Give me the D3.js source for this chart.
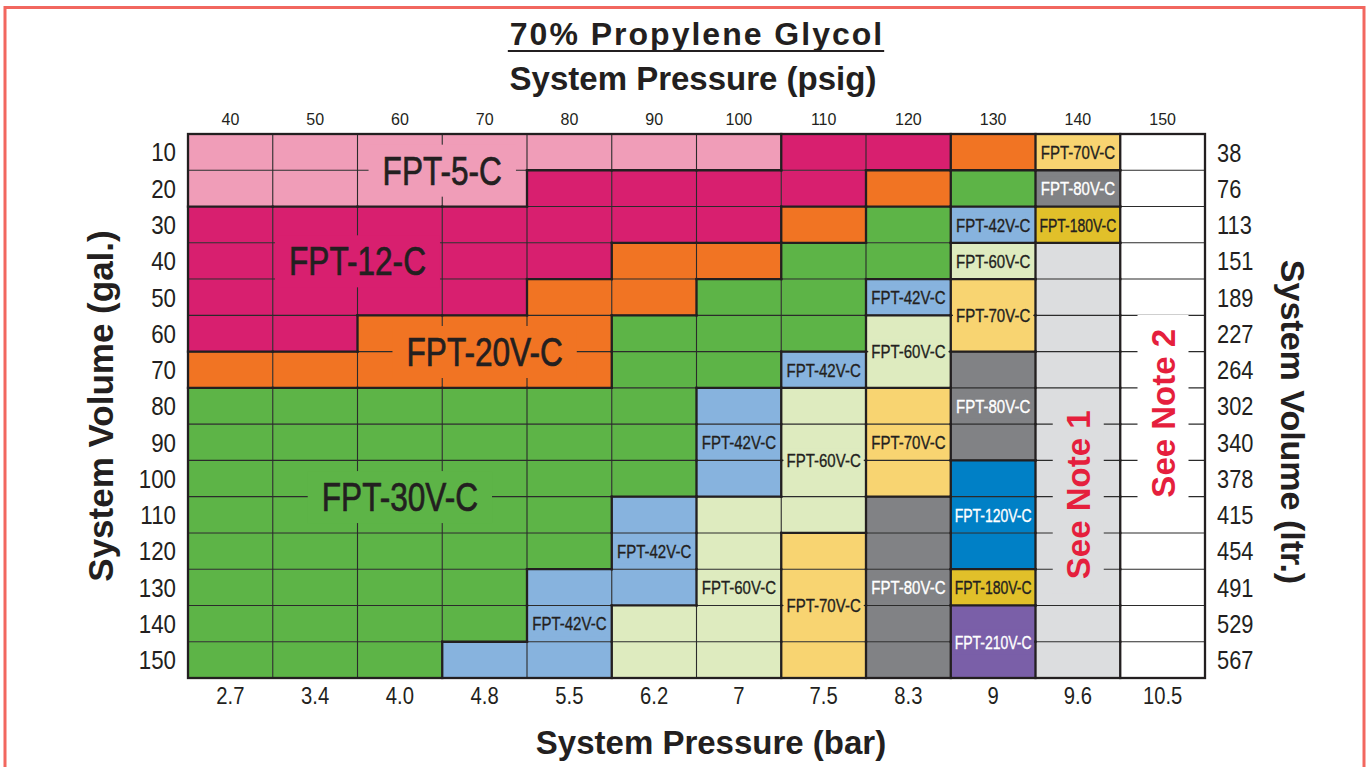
<!DOCTYPE html>
<html>
<head>
<meta charset="utf-8">
<script src="https://cdn.jsdelivr.net/npm/d3@7"></script>
<style>
  body { margin: 0; background: #fff; }
  svg { display: block; }
</style>
</head>
<body>
<div id="chart"></div>
<script>
// psig across the top, bar along the bottom
const psig = [40, 50, 60, 70, 80, 90, 100, 110, 120, 130, 140, 150];
const barLabels = ['2.7', '3.4', '4.0', '4.8', '5.5', '6.2', '7', '7.5', '8.3', '9', '9.6', '10.5'];
// gallons on the left, litres on the right
const gal = [10, 20, 30, 40, 50, 60, 70, 80, 90, 100, 110, 120, 130, 140, 150];
const ltr = [38, 76, 113, 151, 189, 227, 264, 302, 340, 378, 415, 454, 491, 529, 567];

// tank model per cell (row = gal, column = psig)
const grid = [
  ['5', '5', '5', '5', '5', '5', '5', '12', '12', '20', '70', 'n2'],
  ['5', '5', '5', '5', '12', '12', '12', '12', '20', '30', '80', 'n2'],
  ['12', '12', '12', '12', '12', '12', '12', '20', '30', '42', '180', 'n2'],
  ['12', '12', '12', '12', '12', '20', '20', '30', '30', '60', 'n1', 'n2'],
  ['12', '12', '12', '12', '20', '20', '30', '30', '42', '70', 'n1', 'n2'],
  ['12', '12', '20', '20', '20', '30', '30', '30', '60', '70', 'n1', 'n2'],
  ['20', '20', '20', '20', '20', '30', '30', '42', '60', '80', 'n1', 'n2'],
  ['30', '30', '30', '30', '30', '30', '42', '60', '70', '80', 'n1', 'n2'],
  ['30', '30', '30', '30', '30', '30', '42', '60', '70', '80', 'n1', 'n2'],
  ['30', '30', '30', '30', '30', '30', '42', '60', '70', '120', 'n1', 'n2'],
  ['30', '30', '30', '30', '30', '42', '60', '60', '80', '120', 'n1', 'n2'],
  ['30', '30', '30', '30', '30', '42', '60', '70', '80', '120', 'n1', 'n2'],
  ['30', '30', '30', '30', '42', '42', '60', '70', '80', '180', 'n1', 'n2'],
  ['30', '30', '30', '30', '42', '60', '60', '70', '80', '210', 'n1', 'n2'],
  ['30', '30', '30', '42', '42', '60', '60', '70', '80', '210', 'n1', 'n2']
];

// label text, psig position, gal position, model
const bigLabels = [
  ['FPT-5-C', 65, 15, '5'],
  ['FPT-12-C', 55, 40, '12'],
  ['FPT-20V-C', 70, 65, '20'],
  ['FPT-30V-C', 60, 105, '30']
];
const smallLabels = [
  ['FPT-70V-C', 140, 10, '70'],
  ['FPT-80V-C', 140, 20, '80'],
  ['FPT-180V-C', 140, 30, '180'],
  ['FPT-42V-C', 130, 30, '42'],
  ['FPT-60V-C', 130, 40, '60'],
  ['FPT-42V-C', 120, 50, '42'],
  ['FPT-70V-C', 130, 55, '70'],
  ['FPT-60V-C', 120, 65, '60'],
  ['FPT-42V-C', 110, 70, '42'],
  ['FPT-80V-C', 130, 80, '80'],
  ['FPT-42V-C', 100, 90, '42'],
  ['FPT-60V-C', 110, 95, '60'],
  ['FPT-70V-C', 120, 90, '70'],
  ['FPT-120V-C', 130, 110, '120'],
  ['FPT-42V-C', 90, 120, '42'],
  ['FPT-60V-C', 100, 130, '60'],
  ['FPT-70V-C', 110, 135, '70'],
  ['FPT-80V-C', 120, 130, '80'],
  ['FPT-180V-C', 130, 130, '180'],
  ['FPT-42V-C', 80, 140, '42'],
  ['FPT-210V-C', 130, 145, '210']
];
const notes = [
  ['See Note 1', 140, 104.5, 'n1'],
  ['See Note 2', 150, 82, 'n2']
];

const color = {
  '5': '#f09db8', '12': '#d81f6f', '20': '#f17423', '30': '#5db447',
  '42': '#87b3de', '60': '#deebbf', '70': '#f8d471', '80': '#818285',
  '120': '#0080c6', '180': '#e1c02a', '210': '#7a5fa8',
  'n1': '#dcdddf', 'n2': '#ffffff'
};
const whiteText = ['80', '120', '210'];

const W = 1367, H = 767;
const sans = "'Liberation Sans',Arial,Helvetica,sans-serif";
const ink = '#231f20';

const svg = d3.select('#chart').append('svg')
  .attr('width', W)
  .attr('height', H);

// red frame round the page
svg.append('rect')
  .attr('x', 5).attr('y', 7.5)
  .attr('width', 1359).attr('height', 800)
  .attr('fill', 'none')
  .attr('stroke', '#f2675f')
  .attr('stroke-width', 3);

const plotLeft = 188, plotRight = 1205, plotTop = 134, plotBottom = 678;

const x = d3.scaleBand().domain(psig).range([plotLeft, plotRight]);
const xBar = d3.scaleBand().domain(barLabels).range([plotLeft, plotRight]);
const y = d3.scaleBand().domain(gal).range([plotTop, plotBottom]);
const yLtr = d3.scaleBand().domain(ltr).range([plotTop, plotBottom]);
const bw = x.bandwidth(), bh = y.bandwidth();

// centre positions for labels that sit between cells
const xc = d3.scaleLinear().domain([40, 150]).range([x(40) + bw / 2, x(150) + bw / 2]);
const yc = d3.scaleLinear().domain([10, 150]).range([y(10) + bh / 2, y(150) + bh / 2]);

// cells
const cells = [];
grid.forEach((row, i) => row.forEach((m, j) => cells.push({ i, j, m })));

svg.append('g').selectAll('rect')
  .data(cells)
  .enter().append('rect')
  .attr('x', d => x(psig[d.j]))
  .attr('y', d => y(gal[d.i]))
  .attr('width', bw)
  .attr('height', bh)
  .attr('fill', d => color[d.m]);

// thin grid lines
const thin = svg.append('g').attr('stroke', '#2b2b2b').attr('stroke-width', 1.1);
psig.slice(1).forEach(p => {
  thin.append('line').attr('x1', x(p)).attr('x2', x(p)).attr('y1', plotTop).attr('y2', plotBottom);
});
gal.slice(1).forEach(g => {
  thin.append('line').attr('x1', plotLeft).attr('x2', plotRight).attr('y1', y(g)).attr('y2', y(g));
});

// label backgrounds go on this layer, labels on top
const bgLayer = svg.append('g');
const borderLayer = svg.append('g').attr('stroke', ink).attr('stroke-width', 2.3).attr('stroke-linecap', 'square');
const textLayer = svg.append('g');

// thicker lines where the model changes
grid.forEach((row, i) => row.forEach((m, j) => {
  if (j < row.length - 1 && row[j + 1] !== m) {
    const xx = x(psig[j + 1]);
    borderLayer.append('line').attr('x1', xx).attr('x2', xx)
      .attr('y1', y(gal[i])).attr('y2', y(gal[i]) + bh);
  }
  if (i < grid.length - 1 && grid[i + 1][j] !== m) {
    const yy = y(gal[i + 1]);
    borderLayer.append('line').attr('x1', x(psig[j])).attr('x2', x(psig[j]) + bw)
      .attr('y1', yy).attr('y2', yy);
  }
}));

borderLayer.append('rect')
  .attr('x', plotLeft).attr('y', plotTop)
  .attr('width', plotRight - plotLeft).attr('height', plotBottom - plotTop)
  .attr('fill', 'none');

// condensed look: Arial metrics squeezed horizontally, long names squeezed more to fit
function drawLabel(d, opts) {
  const fill = opts.fill || (whiteText.includes(d[3]) ? '#fff' : ink);
  const g = textLayer.append('g');
  const t = g.append('text')
    .attr('text-anchor', 'middle')
    .attr('dy', '0.36em')
    .attr('font-family', sans)
    .attr('font-size', opts.size)
    .attr('font-weight', opts.weight || 'normal')
    .attr('fill', fill)
    .attr('stroke', fill)
    .attr('stroke-width', opts.stroke || 0)
    .text(d[0]);
  const b = t.node().getBBox();
  let sx = opts.squeeze || 1;
  if (opts.maxW && b.width * sx > opts.maxW) sx = opts.maxW / b.width;
  const tr = `translate(${xc(d[1])},${yc(d[2])}) rotate(${opts.rotate || 0}) scale(${sx},1)`;
  g.attr('transform', tr);
  bgLayer.append('rect')
    .attr('transform', tr)
    .attr('x', b.x - opts.padX / sx)
    .attr('y', b.y - opts.padY)
    .attr('width', b.width + opts.padX * 2 / sx)
    .attr('height', b.height + opts.padY * 2)
    .attr('fill', color[d[3]]);
}

bigLabels.forEach(d => drawLabel(d, { size: 40, squeeze: 0.79, stroke: 0.7, padX: 14, padY: 4 }));
smallLabels.forEach(d => drawLabel(d, { size: 19, squeeze: 0.79, maxW: 77, stroke: 0.35, padX: 3, padY: 2 }));
notes.forEach(d => drawLabel(d, {
  size: 33, weight: 'bold', fill: '#e51f3d', rotate: -90, padX: 14, padY: 7
}));

// axes
const axisTop = svg.append('g')
  .attr('transform', `translate(0,${plotTop - 9})`)
  .call(d3.axisTop(x).tickSize(0).tickPadding(0));
const axisBottom = svg.append('g')
  .attr('transform', `translate(0,${plotBottom + 10})`)
  .call(d3.axisBottom(xBar).tickSize(0).tickPadding(0));
const axisLeft = svg.append('g')
  .attr('transform', `translate(${plotLeft - 12},0)`)
  .call(d3.axisLeft(y).tickSize(0).tickPadding(0));
const axisRight = svg.append('g')
  .attr('transform', `translate(${plotRight + 12},0)`)
  .call(d3.axisRight(yLtr).tickSize(0).tickPadding(0));

[axisTop, axisBottom, axisLeft, axisRight].forEach(a => {
  a.select('.domain').remove();
  a.selectAll('text').attr('fill', ink).attr('font-family', sans);
});
axisTop.selectAll('text').attr('font-size', 16);
axisBottom.selectAll('text').attr('font-size', 23).attr('transform', 'scale(0.88,1)');
axisLeft.selectAll('text').attr('font-size', 26).attr('dy', '0.36em').attr('transform', 'scale(0.86,1)');
axisRight.selectAll('text').attr('font-size', 26).attr('dy', '0.36em').attr('transform', 'scale(0.84,1)');

// titles
const title = svg.append('text')
  .attr('x', 697).attr('y', 45)
  .attr('text-anchor', 'middle')
  .attr('font-family', sans).attr('font-weight', 'bold')
  .attr('font-size', 32).attr('letter-spacing', 2)
  .attr('fill', ink)
  .text('70% Propylene Glycol');
const tb = title.node().getBBox();
svg.append('line')
  .attr('x1', tb.x - 2).attr('x2', tb.x + tb.width)
  .attr('y1', 51).attr('y2', 51)
  .attr('stroke', ink).attr('stroke-width', 2);

svg.append('text')
  .attr('x', 693).attr('y', 90)
  .attr('text-anchor', 'middle')
  .attr('font-family', sans).attr('font-weight', 'bold').attr('font-size', 33)
  .attr('fill', ink)
  .text('System Pressure (psig)');

svg.append('text')
  .attr('x', 711).attr('y', 754)
  .attr('text-anchor', 'middle')
  .attr('font-family', sans).attr('font-weight', 'bold').attr('font-size', 33)
  .attr('fill', ink)
  .text('System Pressure (bar)');

svg.append('text')
  .attr('transform', 'translate(100,406) rotate(-90)')
  .attr('text-anchor', 'middle').attr('dy', '0.36em')
  .attr('font-family', sans).attr('font-weight', 'bold').attr('font-size', 35)
  .attr('fill', ink)
  .text('System Volume (gal.)');

svg.append('text')
  .attr('transform', 'translate(1293,422) rotate(90)')
  .attr('text-anchor', 'middle').attr('dy', '0.36em')
  .attr('font-family', sans).attr('font-weight', 'bold').attr('font-size', 34)
  .attr('fill', ink)
  .text('System Volume (ltr.)');
</script>
</body>
</html>
